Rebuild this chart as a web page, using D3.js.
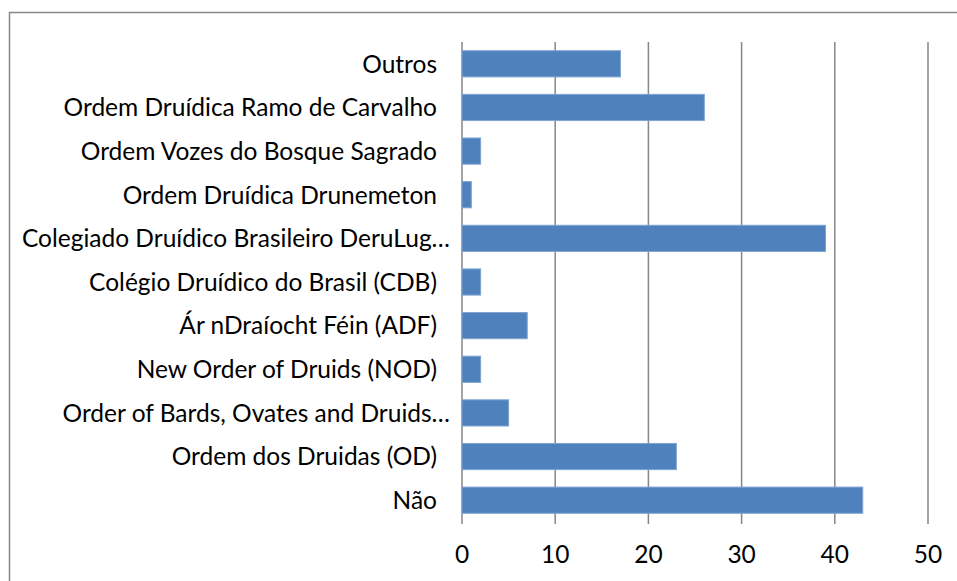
<!DOCTYPE html>
<html>
<head>
<meta charset="utf-8">
<script src="https://cdn.jsdelivr.net/npm/d3@7"></script>
<style>
  body { margin: 0; background: #fff; }
  svg text { font-family: Lato, "Open Sans", sans-serif; fill: #000; }
</style>
</head>
<body>
<div id="chart"></div>
<script>
// categories top to bottom, as in the picture
const categories = [
  'Outros',
  'Ordem Druídica Ramo de Carvalho',
  'Ordem Vozes do Bosque Sagrado',
  'Ordem Druídica Drunemeton',
  'Colegiado Druídico Brasileiro DeruLug…',
  'Colégio Druídico do Brasil (CDB)',
  'Ár nDraíocht Féin (ADF)',
  'New Order of Druids (NOD)',
  'Order of Bards, Ovates and Druids…',
  'Ordem dos Druidas (OD)',
  'Não'
];
const values = [17, 26, 2, 1, 39, 2, 7, 2, 5, 23, 43];
const xTicks = [0, 10, 20, 30, 40, 50];

const width = 957, height = 581;
const plot = { left: 462, right: 928, top: 42, bottom: 522 };

const svg = d3.select('#chart')
  .append('svg')
  .attr('width', width)
  .attr('height', height);

// outer frame (runs off the right and bottom like the original crop)
svg.append('rect')
  .attr('x', 9.5).attr('y', 12.5)
  .attr('width', 960).attr('height', 600)
  .attr('fill', 'none')
  .attr('stroke', '#868686')
  .attr('stroke-width', 1.5);

const x = d3.scaleLinear().domain([0, 50]).range([plot.left, plot.right]);
const y = d3.scaleBand().domain(categories).range([plot.top, plot.bottom]).paddingInner(0.4).paddingOuter(0.2);

// gridlines
svg.append('g')
  .selectAll('line')
  .data(xTicks)
  .enter()
  .append('line')
  .attr('x1', d => x(d)).attr('x2', d => x(d))
  .attr('y1', plot.top).attr('y2', plot.bottom + 2)
  .attr('stroke', '#868686')
  .attr('stroke-width', 1.5);

// bars
svg.append('g')
  .selectAll('rect')
  .data(values)
  .enter()
  .append('rect')
  .attr('x', x(0))
  .attr('y', (d, i) => y(categories[i]))
  .attr('width', d => x(d) - x(0))
  .attr('height', y.bandwidth())
  .attr('fill', '#4f81bd')
  .attr('stroke', '#7fa4d3')
  .attr('stroke-width', 1);

// category labels
svg.append('g')
  .selectAll('text')
  .data(categories)
  .enter()
  .append('text')
  .attr('x', d => d.endsWith('…') ? 450 : 437)
  .attr('y', d => y(d) + y.bandwidth() / 2)
  .attr('dy', '0.36em')
  .attr('text-anchor', 'end')
  .style('font-size', '24.5px')
  .text(d => d);

// x axis labels
svg.append('g')
  .selectAll('text')
  .data(xTicks)
  .enter()
  .append('text')
  .attr('x', d => x(d))
  .attr('y', 554)
  .attr('dy', '0.36em')
  .attr('text-anchor', 'middle')
  .style('font-size', '24.5px')
  .text(d => d);
</script>
</body>
</html>
